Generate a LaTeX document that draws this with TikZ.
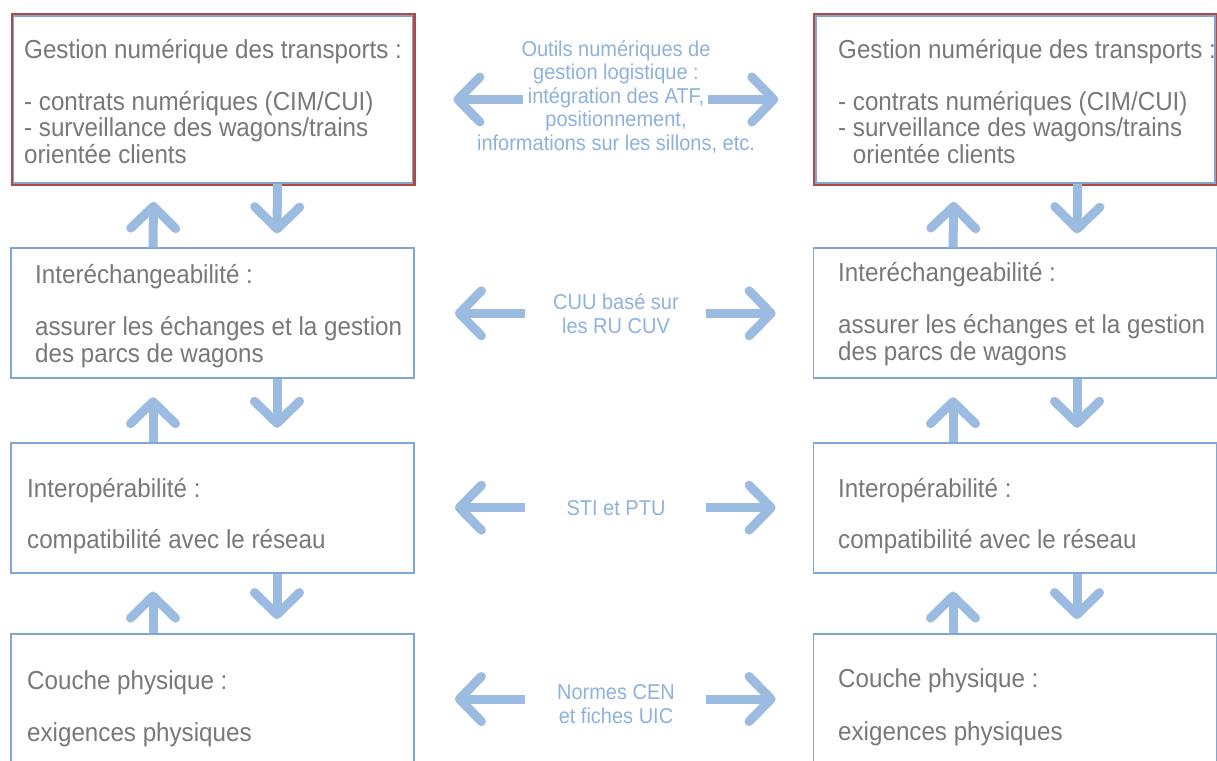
\documentclass[tikz,border=0pt]{standalone}
\usepackage{fontspec}
\usepackage{xcolor}
\usepackage{tikz}
\usetikzlibrary{arrows.meta}
\newfontfamily\layerfont{Liberation Sans}[FakeStretch=0.93]
\definecolor{layerblue}{HTML}{7EA7D6}
\definecolor{arrowblue}{HTML}{9BBBE1}
\definecolor{labelblue}{HTML}{8DB2DF}
\definecolor{layergray}{HTML}{77787C}
\definecolor{layerred}{HTML}{B5493D}

\begin{document}
\begin{tikzpicture}[x=1pt, y=1pt,
    layer/.style={draw=layerblue, fill=white, line width=1.8pt, inner sep=0pt,
                  minimum width=403pt, minimum height=130pt},
    toplayer/.style={layer, preaction={draw=layerred, line width=6pt},
                     minimum width=399pt, minimum height=167pt},
    layertext/.style={anchor=base west, align=left, inner sep=0pt, text=layergray,
                      font=\layerfont\fontsize{26}{26.5}\selectfont},
    tooltext/.style={anchor=base, align=center, inner sep=0pt, text=labelblue,
                     font=\layerfont\fontsize{21.5}{23.5}\selectfont},
    flow/.style={draw=arrowblue, line width=9pt,
                 -{Straight Barb[length=22pt, width=45pt, round]}}]
    \path[use as bounding box] (0,0) rectangle (1217,-760);
    \clip (0,0) rectangle (1217,-760);
    \fill[white] (0,0) rectangle (1217,-760);

    \node[toplayer] (gl1) at (213,-99.5) {};
    \node[layer] (gl2) at (212.5,-313.3) {};
    \node[layer] (gl3) at (212.5,-507.7) {};
    \node[layer] (gl4) at (212.5,-699) {};
    \node[toplayer] (gr1) at (1015.7,-99.5) {};
    \node[layer] (gr2) at (1015,-313.3) {};
    \node[layer] (gr3) at (1015,-507.7) {};
    \node[layer] (gr4) at (1015,-699) {};

    % anchor base = baseline of the last line
    \node[layertext] (tl1) at (24,-163) {Gestion numérique des transports :\\[25.5pt]
      - contrats numériques (CIM/CUI)\\- surveillance des wagons/trains\\orientée clients};
    \node[layertext] (tl2) at (35,-362) {Interéchangeabilité :\\[25.5pt]
      assurer les échanges et la gestion\\des parcs de wagons};
    \node[layertext] (tl3) at (27,-548) {Interopérabilité :\\[24.5pt]compatibilité avec le réseau};
    \node[layertext] (tl4) at (27,-741) {Couche physique :\\[25.5pt]exigences physiques};
    \node[layertext] (tr1) at (838,-163) {Gestion numérique des transports :\\[25.5pt]
      - contrats numériques (CIM/CUI)\\- surveillance des wagons/trains\\\phantom{- }orientée clients};
    \node[layertext] (tr2) at (838,-360) {Interéchangeabilité :\\[25.5pt]
      assurer les échanges et la gestion\\des parcs de wagons};
    \node[layertext] (tr3) at (838,-548) {Interopérabilité :\\[24.5pt]compatibilité avec le réseau};
    \node[layertext] (tr4) at (838,-740) {Couche physique :\\[26.5pt]exigences physiques};

    \node[tooltext] (m1) at (616,-150) {Outils numériques de\\gestion logistique :\\intégration des ATF,\\positionnement,\\informations sur les sillons, etc.};
    \node[tooltext] (m2) at (616,-333) {CUU basé sur\\les RU CUV};
    \node[tooltext] (m3) at (616,-515) {STI et PTU};
    \node[tooltext] (m4) at (616,-723) {Normes CEN\\et fiches UIC};

    \foreach \row in {1,...,4} {
      \draw[flow] ([xshift=110]gl\row.east) -- ([xshift=40]gl\row.east);
      \draw[flow] ([xshift=-107]gr\row.west) -- ([xshift=-37]gr\row.west);
    }
    \foreach \col/\up/\dn in {l/-59.5/64.5, r/-62/62}
      \foreach \a/\b in {1/2, 2/3, 3/4} {
        \draw[flow] ([xshift=\dn]g\col\a.south) -- ([xshift=\dn, yshift=14]g\col\b.north);
        \draw[flow] ([xshift=\up]g\col\b.north) -- ([xshift=\up, yshift=-18]g\col\a.south);
      }
  \end{tikzpicture}
\end{document}
